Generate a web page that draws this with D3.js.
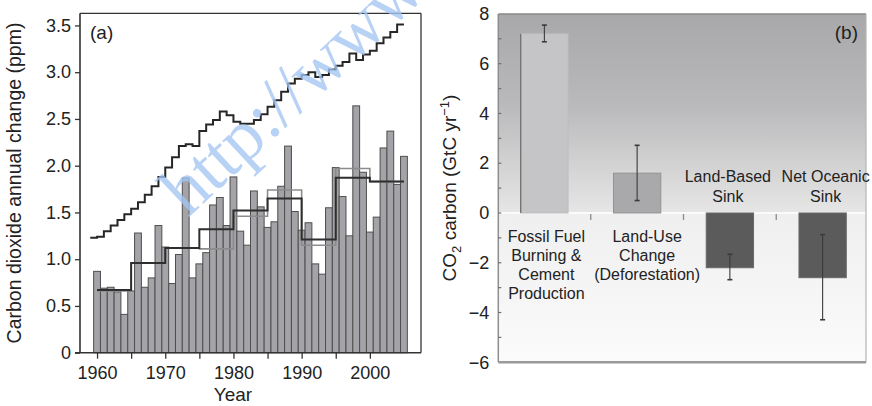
<!DOCTYPE html>
<html>
<head>
<meta charset="utf-8">
<script src="https://cdn.jsdelivr.net/npm/d3@7"></script>
<style>
  html, body { margin: 0; padding: 0; background: #fff; }
  svg { display: block; font-family: "Liberation Sans", Arial, Helvetica, sans-serif; }
</style>
</head>
<body>
<svg id="chart" width="872" height="406"></svg>
<script>
// ---------- Panel (a): annual change in atmospheric CO2 ----------
const years = [1960, 1961, 1962, 1963, 1964, 1965, 1966, 1967, 1968, 1969,
               1970, 1971, 1972, 1973, 1974, 1975, 1976, 1977, 1978, 1979,
               1980, 1981, 1982, 1983, 1984, 1985, 1986, 1987, 1988, 1989,
               1990, 1991, 1992, 1993, 1994, 1995, 1996, 1997, 1998, 1999,
               2000, 2001, 2002, 2003, 2004, 2005];
const annualChange = [0.87, 0.69, 0.70, 0.65, 0.41, 0.66, 1.28, 0.70, 0.80, 1.36,
                      1.13, 0.74, 1.05, 1.87, 0.80, 0.95, 1.07, 1.58, 1.66, 1.36,
                      1.88, 1.30, 1.15, 1.73, 1.56, 1.34, 1.40, 1.78, 2.21, 1.51,
                      1.31, 1.39, 0.95, 0.84, 1.55, 1.98, 1.67, 1.25, 2.64, 1.93,
                      1.29, 1.45, 2.19, 2.37, 1.80, 2.10];

// five-year means from two measurement networks
const periodStarts = [1960, 1965, 1970, 1975, 1980, 1985, 1990, 1995, 2000];
const meanNetworkA = [0.67, 0.96, 1.12, 1.32, 1.52, 1.65, 1.21, 1.87, 1.83];
const meanNetworkB = [0.66, 0.96, 1.12, 1.11, 1.46, 1.74, 1.15, 1.97, 1.83];

// increase expected if all fossil-fuel emissions stayed airborne (ppm/yr)
const emissionYears = [1959, 1960, 1961, 1962, 1963, 1964, 1965, 1966, 1967, 1968,
                       1969, 1970, 1971, 1972, 1973, 1974, 1975, 1976, 1977, 1978,
                       1979, 1980, 1981, 1982, 1983, 1984, 1985, 1986, 1987, 1988,
                       1989, 1990, 1991, 1992, 1993, 1994, 1995, 1996, 1997, 1998,
                       1999, 2000, 2001, 2002, 2003, 2004];
const emissionsPpm = [1.23, 1.24, 1.30, 1.36, 1.42, 1.48, 1.54, 1.61, 1.69, 1.78,
                      1.88, 1.98, 2.09, 2.21, 2.23, 2.21, 2.37, 2.44, 2.49, 2.58,
                      2.54, 2.47, 2.45, 2.45, 2.49, 2.55, 2.63, 2.70, 2.79, 2.88,
                      2.93, 2.97, 3.00, 2.95, 2.97, 3.03, 3.07, 3.11, 3.20, 3.13,
                      3.19, 3.23, 3.31, 3.37, 3.43, 3.51];

const yTicksA = [0, 0.5, 1.0, 1.5, 2.0, 2.5, 3.0, 3.5];
const xTickYears = [1960, 1965, 1970, 1975, 1980, 1985, 1990, 1995, 2000];
const xLabelYears = [1960, 1970, 1980, 1990, 2000];

// ---------- Panel (b): global carbon budget ----------
const budgetCategories = ["Fossil Fuel Burning & Cement Production",
                          "Land-Use Change (Deforestation)",
                          "Land-Based Sink", "Net Oceanic Sink"];
const budgetLabelLines = [["Fossil Fuel", "Burning &", "Cement", "Production"],
                          ["Land-Use", "Change", "(Deforestation)"],
                          ["Land-Based", "Sink"],
                          ["Net Oceanic", "Sink"]];
const budgetValues = [7.2, 1.6, -2.2, -2.6];
const budgetErrLow = [6.88, 0.5, -2.68, -4.29];
const budgetErrHigh = [7.55, 2.72, -1.66, -0.87];
const yTicksB = [8, 6, 4, 2, 0, -2, -4, -6];

const FONT = '"Liberation Sans", Arial, Helvetica, sans-serif';
const svg = d3.select("#chart");
const defs = svg.append("defs");

// ======================= Panel (a) =======================
const xA = d3.scaleLinear().domain([1957.5, 2007.5]).range([80, 421]);
const yA = d3.scaleLinear().domain([0, 3.63]).range([352.7, 13.3]);
const gA = svg.append("g");

// annual bars
gA.append("g").selectAll("rect").data(years).join("rect")
  .attr("x", d => xA(d - 0.5))
  .attr("width", d => xA(d + 0.5) - xA(d - 0.5))
  .attr("y", (d, i) => yA(annualChange[i]))
  .attr("height", (d, i) => yA(0) - yA(annualChange[i]))
  .attr("fill", "#a3a3a8")
  .attr("stroke", "#4f4f4f")
  .attr("stroke-width", 1);

// stepped five-year means
function periodPoints(vals) {
  const pts = [];
  periodStarts.forEach((s, i) => { pts.push([s, vals[i]]); pts.push([s + 5, vals[i]]); });
  return pts;
}
const lineA = d3.line().x(d => xA(d[0])).y(d => yA(d[1]));
gA.append("path").attr("d", lineA(periodPoints(meanNetworkB)))
  .attr("fill", "none").attr("stroke", "#8c8c8c").attr("stroke-width", 1.6);
gA.append("path").attr("d", lineA(periodPoints(meanNetworkA)))
  .attr("fill", "none").attr("stroke", "#2e2e2e").attr("stroke-width", 2);

// stepped fossil-fuel line
const emissionPts = [];
emissionYears.forEach((y, i) => { emissionPts.push([y, emissionsPpm[i]]); emissionPts.push([y + 1, emissionsPpm[i]]); });
gA.append("path").attr("d", lineA(emissionPts))
  .attr("fill", "none").attr("stroke", "#262626").attr("stroke-width", 2)
  .attr("stroke-linejoin", "miter");

// frame
const frameA = gA.append("g").attr("stroke", "#333").attr("fill", "none");
frameA.append("line").attr("x1", 80).attr("x2", 421).attr("y1", 13.3).attr("y2", 13.3).attr("stroke-width", 1.3);
frameA.append("line").attr("x1", 421).attr("x2", 421).attr("y1", 13.3).attr("y2", yA(0)).attr("stroke-width", 1.3);
frameA.append("line").attr("x1", 80).attr("x2", 80).attr("y1", 13.3).attr("y2", yA(0)).attr("stroke-width", 1.6);
frameA.append("line").attr("x1", 75).attr("x2", 421).attr("y1", yA(0)).attr("y2", yA(0)).attr("stroke-width", 1.6);

// axes
gA.append("g").attr("transform", "translate(80,0)")
  .call(d3.axisLeft(yA).tickValues(yTicksA).tickSize(5).tickPadding(4)
        .tickFormat(d => d === 0 ? "0" : d.toFixed(1)))
  .attr("font-family", FONT).attr("font-size", 18)
  .call(g => g.select(".domain").remove())
  .call(g => g.selectAll("line").attr("stroke", "#333").attr("stroke-width", 1.3))
  .call(g => g.selectAll("text").attr("fill", "#222"));

gA.append("g").attr("transform", `translate(0,${yA(0)})`)
  .call(d3.axisBottom(xA).tickValues(xTickYears).tickSize(6).tickPadding(8)
        .tickFormat(d => xLabelYears.includes(d) ? String(d) : ""))
  .attr("font-family", FONT).attr("font-size", 18)
  .call(g => g.select(".domain").remove())
  .call(g => g.selectAll("line").attr("stroke", "#333").attr("stroke-width", 1.3))
  .call(g => g.selectAll("text").attr("fill", "#222"));

gA.append("text").attr("x", 233).attr("y", 401)
  .attr("text-anchor", "middle").attr("font-size", 19).attr("fill", "#222")
  .text("Year");
gA.append("text").attr("transform", "translate(21,183) rotate(-90)")
  .attr("text-anchor", "middle").attr("font-size", 19.5).attr("fill", "#222")
  .text("Carbon dioxide annual change (ppm)");
gA.append("text").attr("x", 90).attr("y", 39)
  .attr("font-size", 19).attr("fill", "#222").text("(a)");

// ======================= Panel (b) =======================
const xB = d3.scaleBand().domain(budgetCategories).range([498, 869])
  .paddingInner(0.49).paddingOuter(0.245);
const yB = d3.scaleLinear().domain([-6, 8]).range([362.3, 13.9]);
const gB = svg.append("g");
const left = 498.3, right = 866;

const gradTop = defs.append("linearGradient").attr("id", "bgTop")
  .attr("gradientUnits", "userSpaceOnUse").attr("x1", 0).attr("x2", 0)
  .attr("y1", yB(8)).attr("y2", yB(0));
gradTop.append("stop").attr("offset", "0").attr("stop-color", "#a8a8ab");
gradTop.append("stop").attr("offset", "0.45").attr("stop-color", "#b9b9bb");
gradTop.append("stop").attr("offset", "1").attr("stop-color", "#e6e6e6");
const gradBot = defs.append("linearGradient").attr("id", "bgBot")
  .attr("gradientUnits", "userSpaceOnUse").attr("x1", 0).attr("x2", 0)
  .attr("y1", yB(0)).attr("y2", yB(-6));
gradBot.append("stop").attr("offset", "0").attr("stop-color", "#efefef");
gradBot.append("stop").attr("offset", "1").attr("stop-color", "#fbfbfb");

gB.append("rect").attr("x", left).attr("y", yB(8)).attr("width", right - left)
  .attr("height", yB(0) - yB(8)).attr("fill", "url(#bgTop)");
gB.append("rect").attr("x", left).attr("y", yB(0)).attr("width", right - left)
  .attr("height", yB(-6) - yB(0)).attr("fill", "url(#bgBot)");
gB.append("line").attr("x1", left).attr("x2", right).attr("y1", yB(0)).attr("y2", yB(0))
  .attr("stroke", "#fbfbfb").attr("stroke-width", 2);

// bars
const barFill = ["#c5c5c7", "#a9a9ab", "#5b5b5b", "#5b5b5b"];
const barStroke = ["#bdbdbd", "#939393", "#686868", "#686868"];
gB.append("g").selectAll("rect").data(budgetCategories).join("rect")
  .attr("x", d => xB(d))
  .attr("width", xB.bandwidth())
  .attr("y", (d, i) => yB(Math.max(0, budgetValues[i])))
  .attr("height", (d, i) => Math.abs(yB(budgetValues[i]) - yB(0)))
  .attr("fill", (d, i) => barFill[i])
  .attr("stroke", (d, i) => barStroke[i])
  .attr("stroke-width", 1);
// darker left edge of the emissions bar
gB.append("line")
  .attr("x1", xB(budgetCategories[0])).attr("x2", xB(budgetCategories[0]))
  .attr("y1", yB(budgetValues[0])).attr("y2", yB(0))
  .attr("stroke", "#6a6a6a").attr("stroke-width", 1.2);

// error bars
const errG = gB.append("g").attr("stroke", "#3a3a3a");
budgetCategories.forEach((c, i) => {
  const cx = xB(c) + xB.bandwidth() / 2;
  errG.append("line").attr("x1", cx).attr("x2", cx)
    .attr("y1", yB(budgetErrLow[i])).attr("y2", yB(budgetErrHigh[i])).attr("stroke-width", 1.1);
  [budgetErrLow[i], budgetErrHigh[i]].forEach(v => {
    errG.append("line").attr("x1", cx - 2.5).attr("x2", cx + 2.5)
      .attr("y1", yB(v)).attr("y2", yB(v)).attr("stroke-width", 1.6);
  });
});

// frame
gB.append("line").attr("x1", left).attr("x2", right).attr("y1", yB(8)).attr("y2", yB(8))
  .attr("stroke", "#8a8a8a").attr("stroke-width", 1.5);
gB.append("line").attr("x1", right).attr("x2", right).attr("y1", yB(8)).attr("y2", yB(-6))
  .attr("stroke", "#b5b5b5").attr("stroke-width", 1.2);
gB.append("line").attr("x1", left).attr("x2", left).attr("y1", yB(8)).attr("y2", yB(-6))
  .attr("stroke", "#8e8e8e").attr("stroke-width", 1.5);
gB.append("line").attr("x1", left).attr("x2", right).attr("y1", yB(-6)).attr("y2", yB(-6))
  .attr("stroke", "#9a9a9a").attr("stroke-width", 2.5);

// small inner ticks along the value axis
gB.append("g").selectAll("line").data(yB.ticks(14).filter(v => v > -6 && v < 8)).join("line")
  .attr("x1", left).attr("x2", left + 3).attr("y1", d => yB(d)).attr("y2", d => yB(d))
  .attr("stroke", "#6e6e6e").attr("stroke-width", 1.2);

// category separators on the zero line
const stepB = xB.step();
gB.append("g").selectAll("line").data(budgetCategories.slice(0, 3)).join("line")
  .attr("x1", d => xB(d) + xB.bandwidth() + (stepB - xB.bandwidth()) / 2)
  .attr("x2", d => xB(d) + xB.bandwidth() + (stepB - xB.bandwidth()) / 2)
  .attr("y1", yB(0) + 1).attr("y2", yB(0) + 7)
  .attr("stroke", "#8a8a8a").attr("stroke-width", 1.3);

// value axis labels
gB.append("g").attr("transform", `translate(${left},0)`)
  .call(d3.axisLeft(yB).tickValues(yTicksB).tickSize(0).tickPadding(9))
  .attr("font-family", FONT).attr("font-size", 18)
  .call(g => g.select(".domain").remove())
  .call(g => g.selectAll("text").attr("fill", "#222"));

// category labels
const labelShift = [2, 10, -2, 3];
budgetCategories.forEach((c, i) => {
  const cx = xB(c) + xB.bandwidth() / 2 + labelShift[i];
  const lines = budgetLabelLines[i];
  const t = gB.append("text").attr("text-anchor", "middle")
    .attr("font-size", 16).attr("fill", "#222");
  lines.forEach((ln, k) => {
    const y = budgetValues[i] >= 0
      ? yB(0) + 29 + k * 19
      : yB(0) - 11 - (lines.length - 1 - k) * 20;
    t.append("tspan").attr("x", cx).attr("y", y).text(ln);
  });
});

// axis title with sub/superscripts
const tB = gB.append("text").attr("transform", "translate(456,188) rotate(-90)")
  .attr("text-anchor", "middle").attr("font-size", 19).attr("fill", "#222");
tB.append("tspan").text("CO");
tB.append("tspan").attr("font-size", 13).attr("dy", 5).text("2");
tB.append("tspan").attr("dy", -5).text(" carbon (GtC yr");
tB.append("tspan").attr("font-size", 13).attr("dy", -7).text("\u22121");
tB.append("tspan").attr("dy", 7).text(")");

gB.append("text").attr("x", 858).attr("y", 39).attr("text-anchor", "end")
  .attr("font-size", 19).attr("fill", "#222").text("(b)");

// ---------- site watermark ----------
svg.append("text")
  .attr("transform", "translate(188,218) rotate(-43)")
  .attr("font-family", '"Liberation Serif", "Times New Roman", serif')
  .attr("font-size", 72).attr("fill", "#a4c6f2").attr("opacity", 0.78)
  .text("http://www.");
</script>
</body>
</html>
